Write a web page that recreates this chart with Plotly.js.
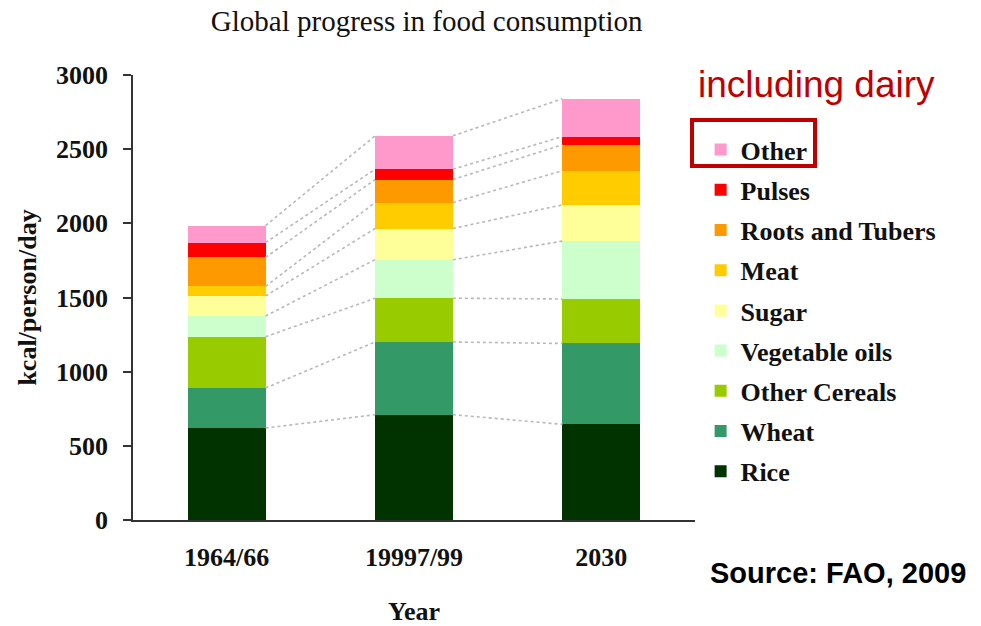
<!DOCTYPE html>
<html>
<head>
<meta charset="utf-8">
<script src="https://cdn.plot.ly/plotly-3.0.1.min.js"></script>
<style>
  html, body { margin: 0; padding: 0; background: #fff; }
  #chart { width: 981px; height: 626px; }
</style>
</head>
<body>
<div id="chart"></div>
<script>
// Periods on the x axis
const periods = ['1964/66', '19997/99', '2030'];

// Food groups, bottom of the stack first
const groups = ['Rice', 'Wheat', 'Other Cereals', 'Vegetable oils', 'Sugar',
                'Meat', 'Roots and Tubers', 'Pulses', 'Other'];

// kcal/person/day for each food group, one value per period
const rice          = [620, 710, 645];
const wheat         = [270, 490, 545];
const otherCereals  = [345, 295, 300];
const vegetableOils = [140, 260, 390];
const sugar         = [135, 210, 245];
const meat          = [65, 175, 230];
const rootsTubers   = [195, 155, 175];
const pulses        = [100, 70, 55];
const other         = [115, 225, 255];

const seriesValues = [rice, wheat, otherCereals, vegetableOils, sugar,
                      meat, rootsTubers, pulses, other];

const colors = ['#003300', '#339966', '#99cc00', '#ccffcc', '#ffff99',
                '#ffcc00', '#ff9900', '#ff0000', '#ff99cc'];

const serif = 'Liberation Serif, Times New Roman, serif';
const sans = 'Liberation Sans, Arial, sans-serif';

const barWidth = 0.415;
const xPos = periods.map((_, i) => i);

const traces = [];

// Dotted guide lines joining the top of each layer from one bar to the next
const running = periods.map(() => 0);
seriesValues.forEach((vals) => {
  const tops = vals.map((v, i) => (running[i] += v));
  const xs = [], ys = [];
  for (let i = 0; i < periods.length - 1; i++) {
    xs.push(xPos[i] + barWidth / 2, xPos[i + 1] - barWidth / 2, null);
    ys.push(tops[i], tops[i + 1], null);
  }
  traces.push({
    type: 'scatter', mode: 'lines', x: xs, y: ys,
    line: { color: '#b8b8b8', width: 1.6, dash: 'dot' },
    showlegend: false, hoverinfo: 'skip', connectgaps: false
  });
});

// Stacked bars; legend lists the top layer first
groups.forEach((name, k) => {
  traces.push({
    type: 'bar', name: name, x: xPos, y: seriesValues[k],
    width: barWidth, legendgroup: name, legendrank: groups.length - k,
    marker: { color: colors[k], line: { width: 0 } }
  });
});

const layout = {
  width: 981, height: 626,
  paper_bgcolor: '#fff', plot_bgcolor: '#fff',
  margin: { l: 133, r: 286, t: 75, b: 106 },
  barmode: 'stack', bargap: 0,
  font: { family: serif, color: '#000' },
  title: {
    text: 'Global progress in food consumption',
    font: { family: serif, size: 29, color: '#111' },
    x: 0.435, xref: 'container', xanchor: 'center',
    y: 0.966, yref: 'container', yanchor: 'middle'
  },
  xaxis: {
    range: [-0.5, 2.5], tickvals: xPos, ticktext: periods,
    showgrid: false, zeroline: false, ticks: '',
    showline: true, linecolor: '#333', linewidth: 1.5,
    tickfont: { family: serif, size: 26, color: '#111', weight: 'bold' },
    ticklabelstandoff: 13,
    title: { text: '<b>Year</b>', font: { family: serif, size: 26, color: '#111' }, standoff: 32 }
  },
  yaxis: {
    range: [0, 3000], tickvals: [0, 500, 1000, 1500, 2000, 2500, 3000],
    showgrid: false, zeroline: false,
    ticks: 'outside', ticklen: 8, tickwidth: 1.5, tickcolor: '#333',
    showline: true, linecolor: '#333', linewidth: 1.5,
    tickfont: { family: serif, size: 26, color: '#111', weight: 'bold' },
    ticklabelstandoff: 10,
    title: { text: '<b>kcal/person/day</b>', font: { family: serif, size: 26, color: '#111' }, standoff: 12 }
  },
  legend: {
    x: 1.01, xanchor: 'left', y: 0.885, yanchor: 'top',
    traceorder: 'grouped', tracegroupgap: 3.4,
    font: { family: serif, size: 26, color: '#111', weight: 'bold' },
    bgcolor: 'rgba(0,0,0,0)', borderwidth: 0
  },
  annotations: [
    {
      text: 'including dairy', xref: 'paper', yref: 'paper',
      x: 1.002, xanchor: 'left', y: 0.978, yanchor: 'middle', showarrow: false,
      font: { family: sans, size: 37, color: '#c00000' }
    },
    {
      text: '<b>Source: FAO, 2009</b>', xref: 'paper', yref: 'paper',
      x: 1.023, xanchor: 'left', y: -0.118, yanchor: 'middle', showarrow: false,
      font: { family: sans, size: 29, color: '#000' }
    }
  ],
  shapes: [
    {
      type: 'rect', xref: 'paper', yref: 'paper',
      x0: (692 - 133) / 562, x1: (815 - 133) / 562,
      y0: (520 - 166) / 445, y1: (520 - 120) / 445,
      line: { color: '#c00000', width: 4 }, fillcolor: 'rgba(0,0,0,0)'
    }
  ]
};

Plotly.newPlot('chart', traces, layout, { displayModeBar: false, responsive: false });
</script>
</body>
</html>
